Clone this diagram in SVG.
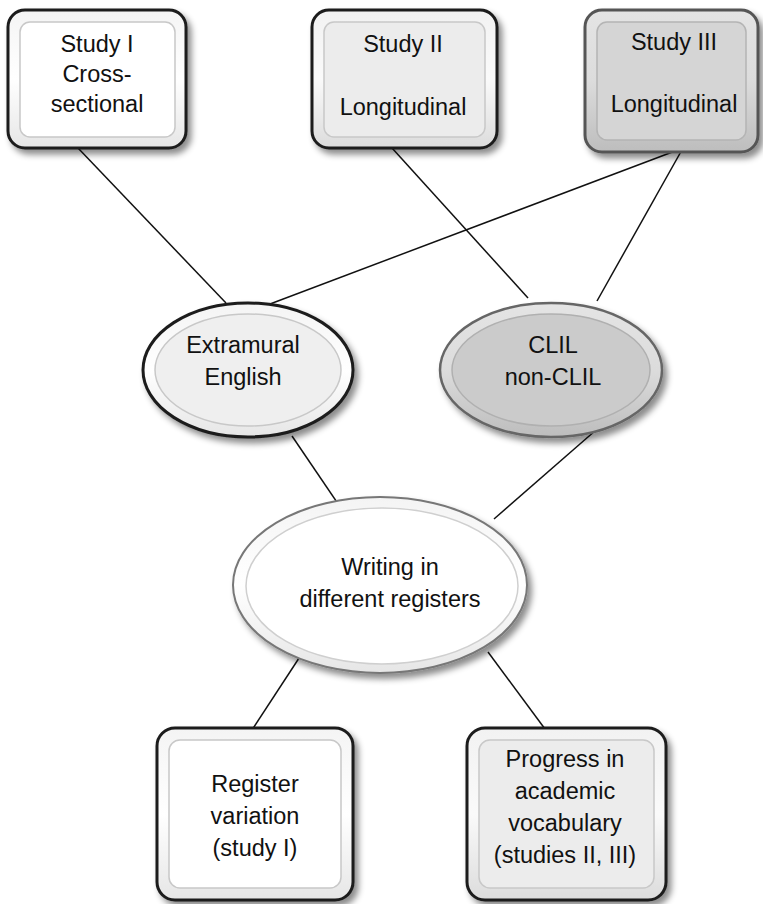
<svg xmlns="http://www.w3.org/2000/svg" width="763" height="904" viewBox="0 0 763 904">
<style>
text{font-family:"Liberation Sans",Arial,sans-serif;font-size:23.5px;fill:#111;text-anchor:middle}
.conn line{stroke:#111;stroke-width:1.5}
.outer{stroke:#1c1c1c;stroke-width:3}
.outerG{stroke:#555;stroke-width:3}
.inner{stroke:#c8c8c8;stroke-width:1.5}
</style>
<defs>
<filter id="sh" x="-10%" y="-10%" width="125%" height="125%">
<feDropShadow dx="4" dy="5" stdDeviation="3" flood-color="#000" flood-opacity="0.45"/>
</filter>
<linearGradient id="bevW" x1="0" y1="0" x2="0" y2="1">
<stop offset="0" stop-color="#f4f4f4"/><stop offset="0.5" stop-color="#ffffff"/><stop offset="1" stop-color="#e6e6e6"/>
</linearGradient>
<linearGradient id="bevL" x1="0" y1="0" x2="0" y2="1">
<stop offset="0" stop-color="#f2f2f2"/><stop offset="0.5" stop-color="#fafafa"/><stop offset="1" stop-color="#dcdcdc"/>
</linearGradient>
<linearGradient id="bevD" x1="0" y1="0" x2="0" y2="1">
<stop offset="0" stop-color="#e4e4e4"/><stop offset="0.5" stop-color="#dcdcdc"/><stop offset="1" stop-color="#bdbdbd"/>
</linearGradient>
</defs>
<rect width="763" height="904" fill="#fff"/>
<g id="connectors" class="conn">
<line x1="78" y1="148" x2="226" y2="303"/>
<line x1="392" y1="148" x2="528" y2="298"/>
<line x1="683" y1="148" x2="597" y2="301"/>
<line x1="683" y1="148" x2="270" y2="304"/>
<line x1="292" y1="436" x2="347" y2="517"/>
<line x1="596" y1="430" x2="494" y2="519"/>
<line x1="303" y1="652" x2="252" y2="730"/>
<line x1="488" y1="652" x2="545" y2="729"/>
</g>
<g id="study1">
<rect class="outer" x="8" y="10" width="178" height="138" rx="17" fill="url(#bevW)" filter="url(#sh)"/>
<rect class="inner" x="20" y="22" width="155" height="115" rx="10" fill="#fff"/>
<text x="97" y="52">Study I</text>
<text x="97" y="82">Cross-</text>
<text x="97" y="112">sectional</text>
</g>
<g id="study2">
<rect class="outer" x="312" y="10" width="185" height="138" rx="17" fill="url(#bevL)" filter="url(#sh)"/>
<rect class="inner" x="324" y="22" width="161" height="115" rx="10" fill="#ececec"/>
<text x="403" y="52">Study II</text>
<text x="403" y="115">Longitudinal</text>
</g>
<g id="study3">
<rect class="outerG" x="585" y="10" width="173" height="142" rx="17" fill="url(#bevD)" filter="url(#sh)"/>
<rect x="597" y="22" width="149" height="118" rx="10" fill="#d5d5d5" stroke="#b4b4b4" stroke-width="1.5"/>
<text x="674" y="50">Study III</text>
<text x="674" y="112">Longitudinal</text>
</g>
<g id="extramural">
<ellipse class="outer" cx="248" cy="370" rx="105" ry="67" fill="url(#bevW)" filter="url(#sh)"/>
<ellipse class="inner" cx="248" cy="370" rx="93" ry="56" fill="#efefef"/>
<text x="243" y="353">Extramural</text>
<text x="243" y="385">English</text>
</g>
<g id="clil">
<ellipse cx="551" cy="370" rx="111" ry="67" fill="url(#bevD)" stroke="#666" stroke-width="2.5" filter="url(#sh)"/>
<ellipse cx="551" cy="370" rx="99" ry="56" fill="#cbcbcb" stroke="#b0b0b0" stroke-width="1.5"/>
<text x="553" y="353">CLIL</text>
<text x="553" y="385">non-CLIL</text>
</g>
<g id="writing">
<ellipse cx="380" cy="585" rx="147" ry="88" fill="url(#bevW)" stroke="#777" stroke-width="2" filter="url(#sh)"/>
<ellipse cx="382" cy="586" rx="136" ry="78" fill="#fff" stroke="#cfcfcf" stroke-width="1.5"/>
<text x="390" y="575">Writing in</text>
<text x="390" y="607">different registers</text>
</g>
<g id="register">
<rect class="outer" x="157" y="728" width="196" height="172" rx="18" fill="url(#bevW)" filter="url(#sh)"/>
<rect class="inner" x="169" y="740" width="172" height="148" rx="11" fill="#fff"/>
<text x="255" y="792">Register</text>
<text x="255" y="824">variation</text>
<text x="255" y="856">(study I)</text>
</g>
<g id="progress">
<rect class="outer" x="467" y="728" width="199" height="172" rx="18" fill="url(#bevL)" filter="url(#sh)"/>
<rect class="inner" x="479" y="740" width="175" height="148" rx="11" fill="#ececec"/>
<text x="565" y="767">Progress in</text>
<text x="565" y="799">academic</text>
<text x="565" y="831">vocabulary</text>
<text x="565" y="863">(studies II, III)</text>
</g>
</svg>
